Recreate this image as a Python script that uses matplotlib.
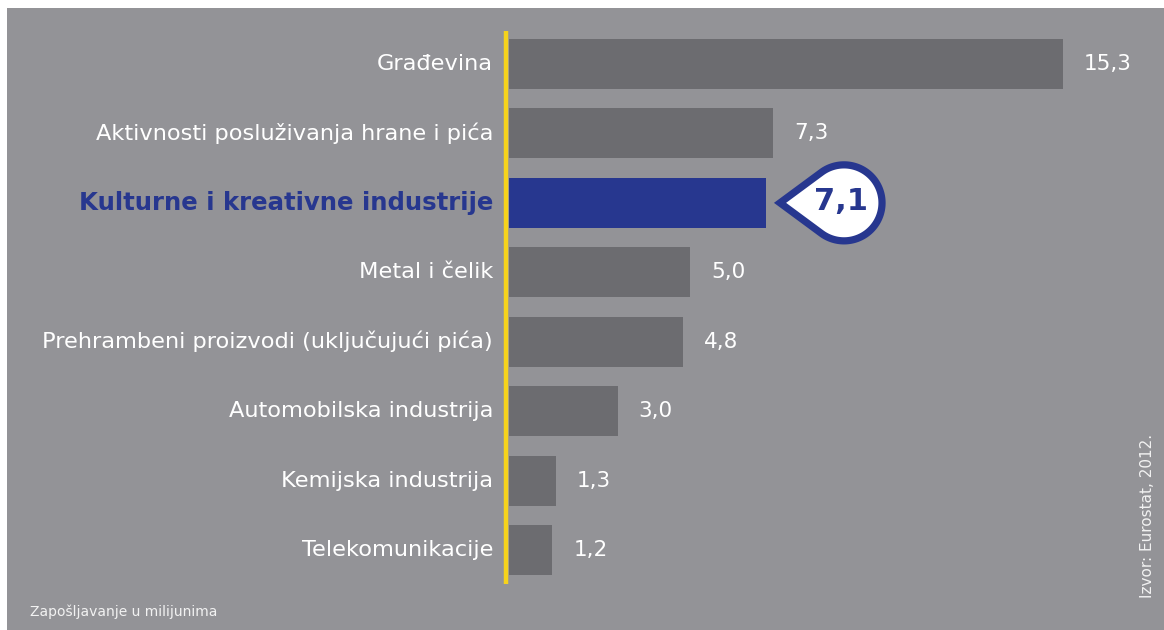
import numpy as np
import matplotlib
matplotlib.use("Agg")
import matplotlib.pyplot as plt
from matplotlib.path import Path
from matplotlib.patches import PathPatch

categories = ["Građevina", "Aktivnosti posluživanja hrane i pića",
              "Kulturne i kreativne industrije", "Metal i čelik",
              "Prehrambeni proizvodi (uključujući pića)", "Automobilska industrija",
              "Kemijska industrija", "Telekomunikacije"]
values = [15.3, 7.3, 7.1, 5.0, 4.8, 3.0, 1.3, 1.2]
value_labels = ["15,3", "7,3", "7,1", "5,0", "4,8", "3,0", "1,3", "1,2"]
highlight = 2
footer = "Zapošljavanje u milijunima"
source = "Izvor: Eurostat, 2012."

W, H = 1164, 630
BG = "#939397"
BAR = "#6c6c70"
BLUE = "#27378f"
YELLOW = "#f6d31c"

fig = plt.figure(figsize=(W / 100, H / 100), dpi=100, facecolor="white")

px_per_unit = 36.2
row_px = 69.43
row0 = 64
bar_x0 = 509
left, right, top, bottom = 7, 1164, 8, 630
ax = fig.add_axes([left / W, 1 - bottom / H, (right - left) / W, (bottom - top) / H])
ax.set_facecolor(BG)
ax.set_xlim(-(bar_x0 - left) / px_per_unit, (right - bar_x0) / px_per_unit)
ax.set_ylim((bottom - row0) / row_px, (top - row0) / row_px)
for s in ax.spines.values():
    s.set_visible(False)
ax.set_xticks([])
ax.set_yticks([])

y = np.arange(len(categories))
colors = [BLUE if i == highlight else BAR for i in range(len(categories))]
ax.barh(y, values, height=0.72, color=colors, zorder=2)

yl_x = -3 / px_per_unit
ax.plot([yl_x, yl_x], [(31 - row0) / row_px, (584 - row0) / row_px],
        color=YELLOW, lw=3.2, solid_capstyle="butt", zorder=3)

lab_x = -16 / px_per_unit
for i, (c, v, vl) in enumerate(zip(categories, values, value_labels)):
    if i == highlight:
        ax.text(lab_x, i, c, ha="right", va="center", fontsize=17.6,
                fontweight="bold", color=BLUE, family="DejaVu Sans")
    else:
        ax.text(lab_x, i, c, ha="right", va="center", fontsize=16.2,
                color="white", family="DejaVu Sans")
        ax.text(v + 21 / px_per_unit, i, vl, ha="left", va="center",
                fontsize=15.5, color="white")

fig.canvas.draw()
tip_data = (values[highlight] + 14 / px_per_unit, highlight)
tx, ty = ax.transData.transform(tip_data)
r = 38.0
d = 64.0
cx, cy = tx + d, ty
phi = np.degrees(np.arccos(r / d))
angs = np.radians(np.linspace(180 - phi, -(180 - phi), 120))
pts = [(tx, ty)] + [(cx + r * np.cos(a), cy + r * np.sin(a)) for a in angs] + [(tx, ty)]
codes = [Path.MOVETO] + [Path.LINETO] * (len(pts) - 2) + [Path.CLOSEPOLY]
patch = PathPatch(Path(pts, codes), facecolor="white", edgecolor=BLUE,
                  lw=5.2, joinstyle="miter", transform=None, zorder=5)
fig.add_artist(patch)
fig.text((cx - 3) / W, (cy + 1) / H, value_labels[highlight], ha="center", va="center",
         fontsize=22, fontweight="bold", color=BLUE, zorder=6)

fig.text(30 / W, 1 - 612 / H, footer, ha="left", va="center", fontsize=10,
         color="#f2f2f2")
fig.text(1148 / W, 1 - 516 / H, source, ha="center", va="center", fontsize=11,
         color="#f2f2f2", rotation=90)

fig.savefig("out.png", dpi=100, facecolor="white")
